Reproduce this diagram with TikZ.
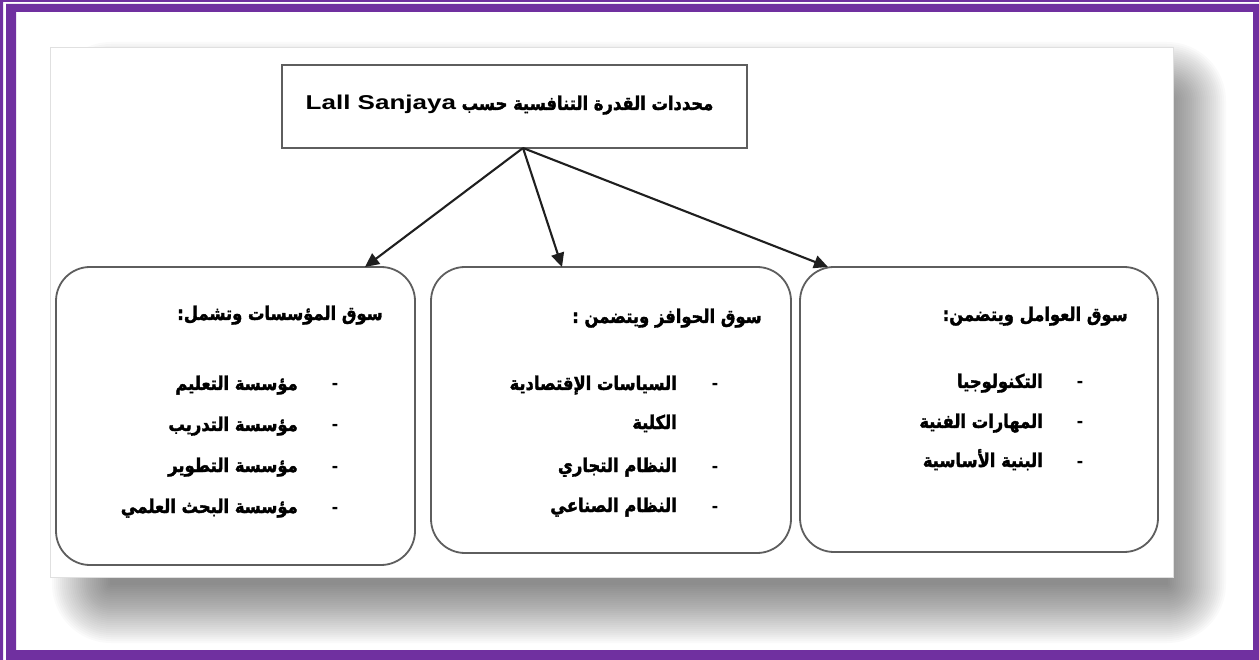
\documentclass[tikz,border=0pt]{standalone}
\usepackage{fontspec}
\setmainfont{Liberation Sans}
\newfontfamily\arabicfont[Script=Arabic,FakeStretch=0.86,FakeBold=1.8]{DejaVu Sans}
\newfontfamily\latinfont[FakeStretch=1.3]{Liberation Sans}
\TeXXeTstate=1
\usetikzlibrary{arrows.meta}
\definecolor{framepurple}{HTML}{7030A0}
\definecolor{boxgray}{HTML}{5E5E5E}
\newcommand{\ar}[1]{{\arabicfont\bfseries\beginR #1\endR}}
\tikzset{
  titlebox/.style={draw=boxgray, line width=1.8pt, fill=white, inner sep=0pt},
  card/.style={draw=boxgray, line width=1.8pt, fill=white, rounded corners=34pt, inner sep=0pt},
  heading/.style={anchor=base east, inner sep=0pt, font=\fontsize{19}{22}\selectfont},
  entry/.style={anchor=base east, inner sep=0pt, font=\fontsize{19}{22}\selectfont},
  dashmark/.style={anchor=base, inner sep=0pt, font=\fontsize{19}{22}\selectfont\bfseries},
  link/.style={draw=black!88, line width=2.1pt, -{Triangle[length=14pt,width=13pt]}}
}
\begin{document}
\begin{tikzpicture}[x=1pt,y=-1pt]
\useasboundingbox (0,0) rectangle (1259,660);
% page frame: thin outer rule and thick inner band
\fill[framepurple] (0,0) rectangle (1259,2) (0,0) rectangle (3,660);
\fill[framepurple, even odd rule] (6,4) rectangle (1259,660) (16,12) rectangle (1253,650);
% soft drop shadow behind the sheet
\foreach \i in {0,...,29}{
  \fill[black, opacity=0.018, rounded corners={(2*\i+1)*1pt}]
    ({110-2*\i},{100-2*\i}) rectangle ({1168+2*\i},{585+2*\i});
}
% the sheet
\fill[white] (50,47) rectangle (1173,577);
\draw[black!12, line width=0.8pt] (50,47) rectangle (1173,577);

% title box
\node[titlebox, minimum width=465pt, minimum height=83pt] (title) at (514.5,106.5) {};
\node[anchor=base, inner sep=0pt, font=\fontsize{19}{22}\selectfont] (titletext) at (509.5,110)
  {\arabicfont\bfseries\beginR محددات القدرة التنافسية حسب \beginL{\latinfont\bfseries\fontsize{20}{22}\selectfont Lall Sanjaya}\endL\endR};

% three market boxes
\node[card, minimum width=359pt, minimum height=298pt] (inst) at (235.5,416) {};
\node[card, minimum width=360pt, minimum height=286pt] (incent) at (611,410) {};
\node[card, minimum width=358pt, minimum height=285pt] (factor) at (979,409.5) {};

% arrows from the title box
\coordinate (hub) at (523,148);
\coordinate (tinst) at (365,267);
\coordinate (tincent) at (562,267);
\coordinate (tfactor) at (828,267);
\draw[link] (hub) -- (tinst);
\draw[link] (hub) -- (tincent);
\draw[link] (hub) -- (tfactor);

% institutions market
\node[heading] (h1) at (383,320) {\ar{سوق المؤسسات وتشمل:}};
\node[dashmark] (d11) at (335,390) {-};
\node[dashmark] (d12) at (335,431) {-};
\node[dashmark] (d13) at (335,472) {-};
\node[dashmark] (d14) at (335,513) {-};
\node[entry] (e11) at (298,390) {\ar{مؤسسة التعليم}};
\node[entry] (e12) at (298,431) {\ar{مؤسسة التدريب}};
\node[entry] (e13) at (298,472) {\ar{مؤسسة التطوير}};
\node[entry] (e14) at (298,513) {\ar{مؤسسة البحث العلمي}};

% incentives market
\node[heading] (h2) at (762,323) {\ar{سوق الحوافز ويتضمن :}};
\node[dashmark] (d21) at (715,390) {-};
\node[dashmark] (d22) at (715,472) {-};
\node[dashmark] (d23) at (715,512) {-};
\node[entry] (e21) at (677,390) {\ar{السياسات الإقتصادية}};
\node[entry] (e21b) at (677,429) {\ar{الكلية}};
\node[entry] (e22) at (677,472) {\ar{النظام التجاري}};
\node[entry] (e23) at (677,512) {\ar{النظام الصناعي}};

% factor market
\node[heading] (h3) at (1128,321) {\ar{سوق العوامل ويتضمن:}};
\node[dashmark] (d31) at (1080,388) {-};
\node[dashmark] (d32) at (1080,428) {-};
\node[dashmark] (d33) at (1080,467) {-};
\node[entry] (e31) at (1043,388) {\ar{التكنولوجيا}};
\node[entry] (e32) at (1043,428) {\ar{المهارات الفنية}};
\node[entry] (e33) at (1043,467) {\ar{البنية الأساسية}};
\end{tikzpicture}
\end{document}
